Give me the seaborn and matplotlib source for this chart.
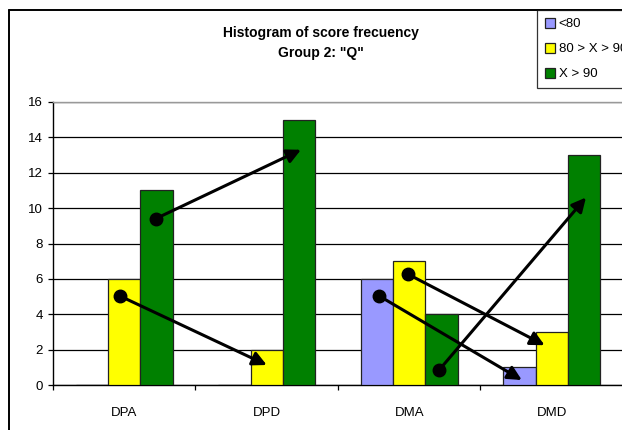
import matplotlib
matplotlib.use("Agg")
import matplotlib.pyplot as plt
from matplotlib.lines import Line2D
import seaborn as sns
import pandas as pd


# Data

categories = ['DPA', 'DPD', 'DMA', 'DMD']
seriesNames = ['<80', '80 > X > 90', 'X > 90']
below80 = [0, 0, 6, 1]
between80and90 = [6, 2, 7, 3]
above90 = [11, 15, 4, 13]
palette = {'<80': '#9999FF', '80 > X > 90': '#FFFF00', 'X > 90': '#008000'}

# arrows drawn over the bars: start (circle) and end (arrow head), in category / count units
arrowStartX = [-0.03, 0.22, 1.79, 1.99, 2.21]
arrowStartY = [5.03, 9.4, 5.03, 6.27, 0.85]
arrowEndX = [1.0, 1.24, 2.79, 2.95, 3.24]
arrowEndY = [1.13, 13.3, 0.28, 2.25, 10.6]

yTicks = [0, 2, 4, 6, 8, 10, 12, 14, 16]


df = pd.DataFrame({
  'Category': categories * 3,
  'Series': [seriesNames[0]] * 4 + [seriesNames[1]] * 4 + [seriesNames[2]] * 4,
  'Count': below80 + between80and90 + above90,
})

sns.set_style('white')
plt.rcParams['font.family'] = ['Liberation Sans', 'DejaVu Sans']
for key in ['text.color', 'axes.labelcolor', 'xtick.color', 'ytick.color']:
  plt.rcParams[key] = 'black'

W, H = 622, 430
fig = plt.figure(figsize=(W / 100, H / 100), dpi=100)
ax = fig.add_axes([53 / W, 1 - 385 / H, 570 / W, 283 / H])

sns.barplot(ax=ax, data=df, x='Category', y='Count', hue='Series',
            order=categories, hue_order=seriesNames, palette=palette,
            width=0.684, saturation=1, errorbar=None)
for bar in ax.patches:
  bar.set_edgecolor('#222222')
  bar.set_linewidth(0.9)
  bar.set_zorder(3)

ax.set_xlim(-0.5, 3.5)
ax.set_ylim(0, 16)
ax.set_yticks(yTicks)
ax.set_xlabel('')
ax.set_ylabel('')
ax.yaxis.grid(True, color='black', linewidth=0.9)
ax.set_axisbelow(True)

ax.tick_params(axis='y', which='major', direction='out', length=3.6, width=0.9,
               color='black', pad=3.5, labelsize=9.5, left=True)
ax.tick_params(axis='x', which='major', length=0, pad=16, labelsize=9.5)
ax.set_xticks([-0.5, 0.5, 1.5, 2.5, 3.5], minor=True)
ax.tick_params(axis='x', which='minor', direction='out', length=3.6, width=0.9,
               color='black', bottom=True)

for side in ['left', 'bottom']:
  ax.spines[side].set_color('black')
  ax.spines[side].set_linewidth(1.0)
ax.spines['top'].set_color('#999999')
ax.spines['top'].set_linewidth(1.0)
ax.spines['right'].set_visible(False)

# arrows
for x0, y0, x1, y1 in zip(arrowStartX, arrowStartY, arrowEndX, arrowEndY):
  ax.annotate('', xy=(x1, y1), xytext=(x0, y0),
              arrowprops=dict(arrowstyle='-|>', color='black', lw=2.2,
                              mutation_scale=21, shrinkA=0, shrinkB=0),
              zorder=5)
ax.plot(arrowStartX, arrowStartY, 'o', color='black', markersize=9, zorder=6)

# legend
handles, labels = ax.get_legend_handles_labels()
ax.get_legend().remove()
leg = fig.legend(handles, labels, loc='upper left',
                 bbox_to_anchor=(537 / W, 1 - 10 / H), borderaxespad=0,
                 fontsize=9.5, frameon=True, fancybox=False,
                 handlelength=0.75, handleheight=0.75, handletextpad=0.3,
                 labelspacing=0.95, borderpad=0.6)
leg.get_frame().set_edgecolor('black')
leg.get_frame().set_linewidth(0.9)
for patch in leg.get_patches():
  patch.set_edgecolor('#222222')
  patch.set_linewidth(0.9)

# title
fig.text(321 / W, 1 - 33 / H, 'Histogram of score frecuency', ha='center', va='center',
         fontsize=10, fontweight='bold')
fig.text(321 / W, 1 - 53 / H, 'Group 2: "Q"', ha='center', va='center',
         fontsize=10, fontweight='bold')

# outer chart frame (only left and top edges fall inside the picture)
fig.add_artist(Line2D([9 / W, 9 / W], [0, 1 - 10 / H], color='black', linewidth=1.4))
fig.add_artist(Line2D([9 / W, 1], [1 - 10 / H, 1 - 10 / H], color='black', linewidth=1.4))

fig.savefig('out.png', dpi=100)
